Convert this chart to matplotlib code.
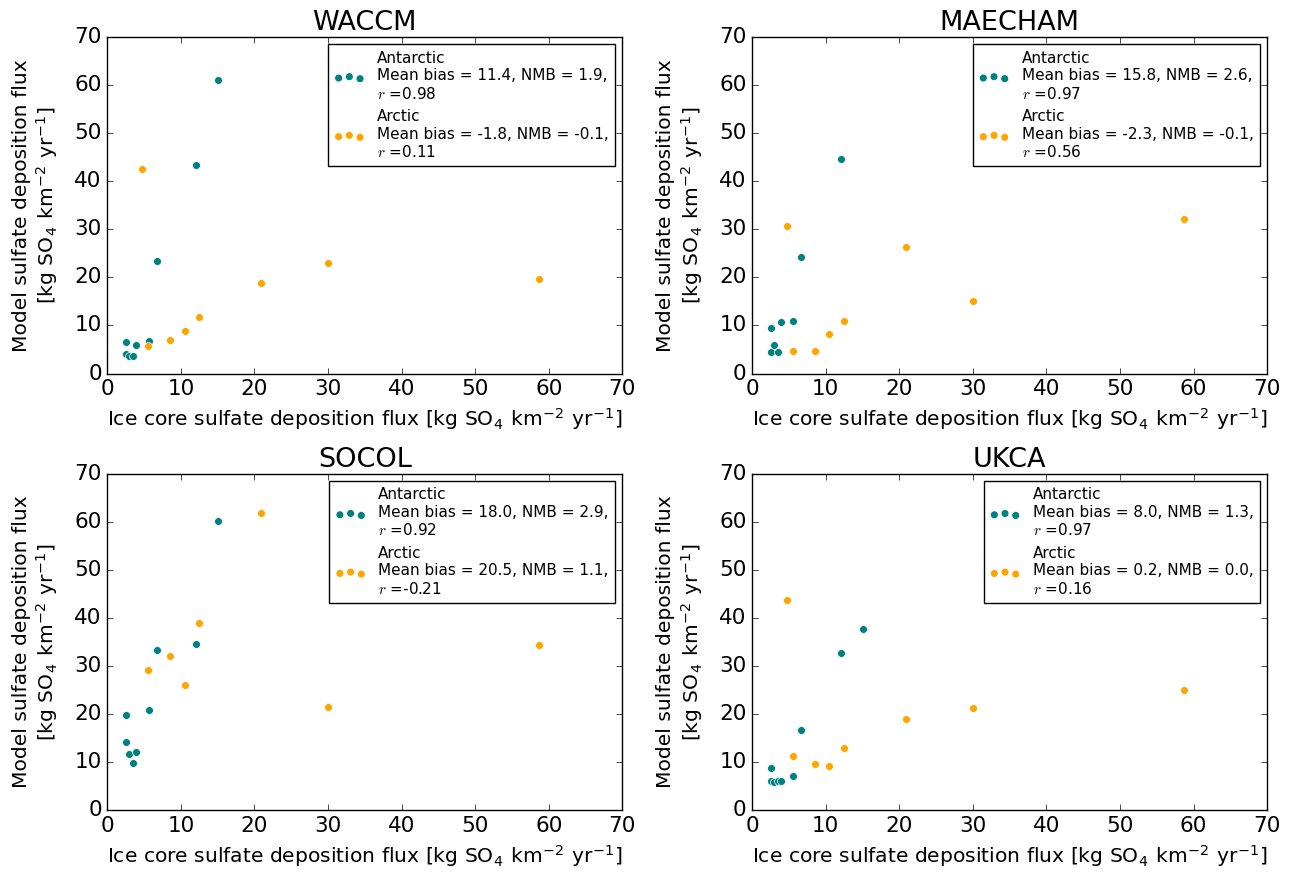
import numpy as np
import matplotlib
matplotlib.use("Agg")
from matplotlib import pyplot as plt

plt.style.use("classic")

models = ["WACCM", "MAECHAM", "SOCOL", "UKCA"]

# ice core fluxes at the sites
ant_obs = [2.5, 2.5, 3.0, 3.5, 3.9, 5.6, 6.7, 12.1, 15.1]
arc_obs = [4.7, 5.5, 8.5, 10.5, 12.5, 20.9, 30.0, 58.7]

# model fluxes at the same sites (nan = no value)
ant_model = {
    "WACCM": [6.5, 4.1, 3.7, 3.6, 5.9, 6.7, 23.3, 43.3, 61.1],
    "MAECHAM": [9.4, 4.4, 5.9, 4.4, 10.8, 11.0, 24.3, 44.7, np.nan],
    "SOCOL": [19.8, 14.3, 11.7, 9.8, 12.2, 20.8, 33.4, 34.6, 60.2],
    "UKCA": [8.8, 6.0, 5.9, 6.0, 6.0, 7.1, 16.6, 32.7, 37.7],
}
arc_model = {
    "WACCM": [42.6, 5.8, 6.9, 8.8, 11.7, 18.8, 22.9, 19.6],
    "MAECHAM": [30.6, 4.6, 4.6, 8.2, 11.0, 26.3, 15.0, 32.2],
    "SOCOL": [np.nan, 29.2, 32.1, 26.1, 39.0, 61.9, 21.4, 34.3],
    "UKCA": [43.8, 11.2, 9.6, 9.3, 12.9, 18.9, 21.2, 25.0],
}

# mean bias, NMB, r
ant_stats = {
    "WACCM": ("11.4", "1.9", "0.98"),
    "MAECHAM": ("15.8", "2.6", "0.97"),
    "SOCOL": ("18.0", "2.9", "0.92"),
    "UKCA": ("8.0", "1.3", "0.97"),
}
arc_stats = {
    "WACCM": ("-1.8", "-0.1", "0.11"),
    "MAECHAM": ("-2.3", "-0.1", "0.56"),
    "SOCOL": ("20.5", "1.1", "-0.21"),
    "UKCA": ("0.2", "0.0", "0.16"),
}

units = r"[kg SO$_\mathregular{4}$ km$^\mathregular{-2}$ yr$^\mathregular{-1}$]"

fig, axes = plt.subplots(2, 2, figsize=(12.93, 8.76), dpi=100)
fig.subplots_adjust(left=0.083, right=0.98, top=0.958, bottom=0.075,
                    wspace=0.252, hspace=0.297)

for ax, name in zip(axes.flat, models):
    mb, nmb, r = ant_stats[name]
    ax.scatter(ant_obs, ant_model[name], s=32, color="teal", edgecolors="white",
               linewidths=0.5,
               label="Antarctic\nMean bias = %s, NMB = %s,\n$r$ =%s" % (mb, nmb, r))
    mb, nmb, r = arc_stats[name]
    ax.scatter(arc_obs, arc_model[name], s=32, color="orange", edgecolors="white",
               linewidths=0.5,
               label="Arctic\nMean bias = %s, NMB = %s,\n$r$ =%s" % (mb, nmb, r))
    ax.set_xlim(0, 70)
    ax.set_ylim(0, 70)
    ax.set_title(name, fontsize=19.5)
    ax.set_xlabel("Ice core sulfate deposition flux " + units, fontsize=14.6)
    ax.set_ylabel("Model sulfate deposition flux\n" + units, fontsize=14.6,
                  labelpad=10)
    ax.tick_params(labelsize=15.5)
    ax.legend(loc="upper right", fontsize=11, scatterpoints=3)

fig.savefig("out.png", dpi=100, facecolor="white")
